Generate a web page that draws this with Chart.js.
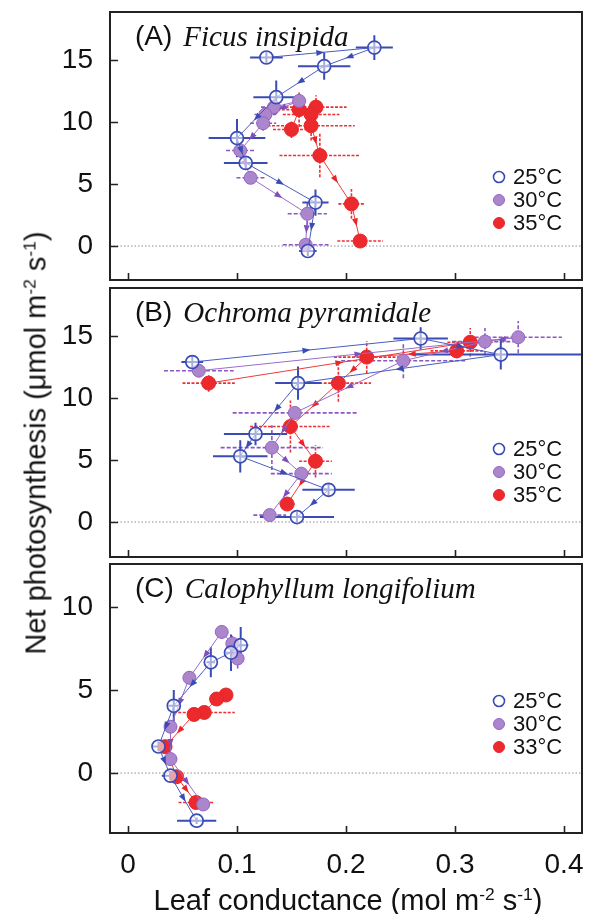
<!DOCTYPE html>
<html><head><meta charset="utf-8">
<script src="https://cdn.jsdelivr.net/npm/chart.js@4.4.0/dist/chart.umd.min.js"></script>
<style>
html,body{margin:0;padding:0;background:#fff;}
#wrap{position:relative;width:593px;height:914px;overflow:hidden;font-family:"Liberation Sans",Arial,sans-serif;color:#111;}
canvas{position:absolute;left:0;}
#ytitle{position:absolute;left:36px;top:443px;transform:translate(-50%,-50%) rotate(-90deg);white-space:nowrap;font-size:29px;line-height:1;}
#xtitle{position:absolute;left:348px;top:900px;transform:translate(-50%,-50%);white-space:nowrap;font-size:29px;line-height:1;}
sup{font-size:60%;vertical-align:0.55em;line-height:0;}
</style></head>
<body><div id="wrap">
<canvas id="cA" width="593" height="286" style="top:0"></canvas>
<canvas id="cB" width="593" height="276" style="top:284px"></canvas>
<canvas id="cC" width="593" height="354" style="top:560px"></canvas>
<div id="ytitle">Net photosynthesis (μmol m<sup>-2</sup> s<sup>-1</sup>)</div>
<div id="xtitle">Leaf conductance (mol m<sup>-2</sup> s<sup>-1</sup>)</div>
</div>
<script>
// ---------- DATA ----------
const tempLabelsAB = ['25°C', '30°C', '35°C'];
const tempLabelsC  = ['25°C', '30°C', '33°C'];
const xTickLabels = ['0', '0.1', '0.2', '0.3', '0.4'];

// Panel A  Ficus insipida
const A25_g    = [0.127, 0.226, 0.180, 0.136, 0.100, 0.108, 0.172, 0.165];
const A25_A    = [15.2, 16.0, 14.5, 12.0, 8.7, 6.7, 3.5, -0.4];
const A25_gErr = [0.015, 0.017, 0.024, 0.021, 0.026, 0.020, 0.012, 0.008];
const A25_AErr = [0.5, 1.0, 1.1, 1.35, 1.55, 0.5, 1.05, 0.4];

const A30_g    = [0.134, 0.157, 0.126, 0.124, 0.103, 0.1125, 0.1645, 0.163];
const A30_A    = [11.2, 11.7, 10.6, 9.9, 7.7, 5.5, 2.6, 0.1];
const A30_gErr = [0.012, 0.006, 0.010, 0.012, 0.013, 0.013, 0.018, 0.021];
const A30_AErr = [0.6, 0.5, 0.6, 0.6, 0.6, 0.5, 0.9, 0.3];

const A35_g    = [0.150, 0.157, 0.1725, 0.168, 0.168, 0.176, 0.205, 0.213];
const A35_A    = [9.4, 11.0, 11.2, 10.6, 9.7, 7.3, 3.4, 0.4];
const A35_gErr = [0.017, 0.020, 0.028, 0.026, 0.040, 0.037, 0.012, 0.021];
const A35_AErr = [0.7, 1.4, 0.95, 0.8, 1.2, 1.75, 1.2, 0.3];

// Panel B  Ochroma pyramidale
const B25_g    = [0.059, 0.2685, 0.342, 0.156, 0.117, 0.103, 0.184, 0.155];
const B25_A    = [12.9, 14.8, 13.5, 11.2, 7.1, 5.3, 2.6, 0.4];
const B25_gErr = [0.010, 0.025, 0.080, 0.021, 0.029, 0.025, 0.024, 0.034];
const B25_AErr = [0.5, 0.9, 1.2, 1.35, 0.9, 1.3, 0.5, 0.4];

const B30_g    = [0.065, 0.358, 0.3275, 0.2526, 0.153, 0.132, 0.159, 0.130];
const B30_A    = [12.2, 14.9, 14.55, 13.0, 8.8, 6.0, 3.9, 0.56];
const B30_gErr = [0.032, 0.040, 0.030, 0.057, 0.057, 0.047, 0.028, 0.015];
const B30_AErr = [0.4, 1.3, 1.1, 1.4, 0.5, 1.8, 0.5, 0.3];

const B35_g    = [0.074, 0.314, 0.3015, 0.219, 0.193, 0.149, 0.172, 0.146];
const B35_A    = [11.2, 14.5, 13.8, 13.3, 11.2, 7.7, 4.9, 1.45];
const B35_gErr = [0.024, 0.021, 0.024, 0.030, 0.030, 0.037, 0.015, 0.007];
const B35_AErr = [0.7, 1.15, 0.6, 1.3, 1.5, 2.1, 1.3, 0.3];

// Panel C  Calophyllum longifolium
const C25_g    = [0.1034, 0.0945, 0.076, 0.042, 0.028, 0.039, 0.063];
const C25_A    = [7.7, 7.25, 6.67, 4.05, 1.6, -0.16, -2.87];
const C25_gErr = [0.007, 0.005, 0.004, 0.005, 0.005, 0.008, 0.018];
const C25_AErr = [1.1, 1.1, 0.9, 0.95, 0.3, 0.3, 0.2];

const C30_g    = [0.1006, 0.0957, 0.086, 0.0563, 0.039, 0.039, 0.069];
const C30_A    = [6.9, 7.8, 8.5, 5.74, 2.79, 0.84, -1.89];
const C30_gErr = [0.005, 0.005, 0.005, 0.004, 0.006, 0.005, 0.006];
const C30_AErr = [0.6, 0.5, 0.4, 0.4, 0.4, 0.4, 0.3];

const C33_g    = [0.0899, 0.0813, 0.070, 0.0606, 0.034, 0.0446, 0.0624];
const C33_A    = [4.7, 4.46, 3.65, 3.53, 1.59, -0.22, -1.77];
const C33_gErr = [0.006, 0.006, 0.028, 0.006, 0.005, 0.006, 0.016];
const C33_AErr = [0.2, 0.2, 0.3, 0.2, 0.3, 0.3, 0.2];

// ---------- STYLES ----------
const FONT = '"Liberation Sans", Arial, sans-serif';
const STY = [
  { line:'#4a5cc2', fill:'rgba(255,255,255,0.55)', stroke:'#3a4cb4', sw:1.7, r:6.5, err:'#3a4cb4', dash:[], ew:2, arrow:'#3a4cb4', legFill:'#fff' },
  { line:'#9a6ccb', fill:'#ab86cc', stroke:'#9466c2', sw:1, r:6.5, err:'#8a58c0', dash:[4,2], ew:1.6, arrow:'#7d4fb8', legFill:'#ab86cc' },
  { line:'#f03a3a', fill:'#ec2a2e', stroke:'#e8262a', sw:1, r:7, err:'#ec3034', dash:[3,1.5], ew:1.6, arrow:'#e8262a', legFill:'#ec2a2e' }
];

function makeDs(label, g, A, gErr, AErr, st) {
  return {
    label,
    data: g.map((v, i) => ({ x: v, y: A[i] })),
    xErr: gErr, yErr: AErr,
    showLine: true, borderColor: st.line, borderWidth: 1,
    pointRadius: st.r, pointBackgroundColor: st.fill, pointBorderColor: st.stroke, pointBorderWidth: st.sw,
    errColor: st.err, errDash: st.dash, errWidth: st.ew, arrowColor: st.arrow, legFill: st.legFill
  };
}

const deco = {
  id: 'deco',
  beforeDatasetsDraw(chart) {
    const { ctx, chartArea: ca, scales: { x, y } } = chart;
    ctx.save();
    ctx.beginPath(); ctx.rect(ca.left, ca.top, ca.right - ca.left, ca.bottom - ca.top); ctx.clip();
    const y0 = y.getPixelForValue(0);
    ctx.strokeStyle = '#8c8c8c'; ctx.lineWidth = 1; ctx.setLineDash([1.5, 2]);
    ctx.beginPath(); ctx.moveTo(ca.left, y0); ctx.lineTo(ca.right, y0); ctx.stroke();
    for (let di = chart.data.datasets.length - 1; di >= 0; di--) {
      const ds = chart.data.datasets[di];
      ctx.strokeStyle = ds.errColor; ctx.lineWidth = ds.errWidth; ctx.setLineDash(ds.errDash);
      ds.data.forEach((p, i) => {
        const px = x.getPixelForValue(p.x), py = y.getPixelForValue(p.y);
        const x1 = x.getPixelForValue(p.x - ds.xErr[i]), x2 = x.getPixelForValue(p.x + ds.xErr[i]);
        const y1 = y.getPixelForValue(p.y - ds.yErr[i]), y2 = y.getPixelForValue(p.y + ds.yErr[i]);
        ctx.beginPath(); ctx.moveTo(x1, py); ctx.lineTo(x2, py); ctx.moveTo(px, y1); ctx.lineTo(px, y2); ctx.stroke();
      });
    }
    ctx.restore();
  },
  afterDatasetDraw(chart, args) {
    const { ctx, scales: { x, y } } = chart;
    const ds = chart.data.datasets[args.index];
    ctx.save();
    ctx.fillStyle = ds.arrowColor;
    for (let i = 0; i < ds.data.length - 1; i++) {
      const ax = x.getPixelForValue(ds.data[i].x), ay = y.getPixelForValue(ds.data[i].y);
      const bx = x.getPixelForValue(ds.data[i + 1].x), by = y.getPixelForValue(ds.data[i + 1].y);
      const dx = bx - ax, dy = by - ay, len = Math.hypot(dx, dy);
      if (len < 26) continue;
      const ux = dx / len, uy = dy / len, mx = (ax + bx) / 2, my = (ay + by) / 2;
      ctx.beginPath();
      ctx.moveTo(mx + ux * 4, my + uy * 4);
      ctx.lineTo(mx - ux * 4 - uy * 3, my - uy * 4 + ux * 3);
      ctx.lineTo(mx - ux * 4 + uy * 3, my - uy * 4 - ux * 3);
      ctx.closePath(); ctx.fill();
    }
    ctx.restore();
  },
  afterDraw(chart, args, opts) {
    const { ctx, chartArea: ca, scales: { x, y } } = chart;
    ctx.save();
    ctx.strokeStyle = '#222'; ctx.lineWidth = 2; ctx.setLineDash([]);
    ctx.strokeRect(ca.left, ca.top, ca.right - ca.left, ca.bottom - ca.top);
    ctx.lineWidth = 1.6;
    ctx.beginPath();
    x.ticks.forEach(t => { const px = Math.round(x.getPixelForValue(t.value)) + 0.5; ctx.moveTo(px, ca.bottom); ctx.lineTo(px, ca.bottom - 7); });
    y.ticks.forEach(t => { const py = Math.round(y.getPixelForValue(t.value)) + 0.5; ctx.moveTo(ca.left, py); ctx.lineTo(ca.left + 8, py); });
    ctx.stroke();
    // title
    ctx.fillStyle = '#111'; ctx.textBaseline = 'middle'; ctx.textAlign = 'left';
    ctx.font = '28px ' + FONT;
    const tx = ca.left + 25, ty = ca.top + 25;
    ctx.fillText(opts.title, tx, ty);
    const w = ctx.measureText(opts.title).width;
    ctx.font = 'italic 29px "Liberation Serif", "Times New Roman", serif';
    ctx.fillText(opts.species, tx + w + 11, ty + 1);
    // legend
    chart.data.datasets.forEach((ds, i) => {
      const cx = ca.left + 389, cy = ca.top + opts.legendTop + i * 23;
      ctx.beginPath(); ctx.arc(cx, cy, 5.5, 0, Math.PI * 2);
      ctx.fillStyle = ds.legFill; ctx.fill();
      ctx.lineWidth = i === 0 ? 1.6 : 1; ctx.strokeStyle = ds.pointBorderColor; ctx.stroke();
      ctx.fillStyle = '#111'; ctx.font = '22px ' + FONT;
      ctx.fillText(ds.label, cx + 14, cy + 1);
    });
    ctx.restore();
  }
};

const X_MIN = -0.0165, X_MAX = 0.4165;
const tickFont = { family: FONT, size: 28 };

function panel(id, p) {
  return new Chart(document.getElementById(id), {
    type: 'scatter',
    data: { datasets: p.datasets },
    options: {
      responsive: false, animation: false, devicePixelRatio: 1,
      layout: { autoPadding: false, padding: { top: p.padTop, right: 11, left: 0, bottom: 0 } },
      plugins: { legend: { display: false }, tooltip: { enabled: false },
        deco: { title: p.title, species: p.species, legendTop: p.legendTop } },
      scales: {
        x: { type: 'linear', min: X_MIN, max: X_MAX,
          afterFit: s => { s.height = p.xAxisH; s.paddingLeft = 0; s.paddingRight = 0; s.paddingTop = 0; s.paddingBottom = 0; },
          grid: { display: false, drawTicks: false }, border: { display: false },
          ticks: { display: p.showX, stepSize: 0.1, includeBounds: false, padding: 15, maxRotation: 0, autoSkip: false,
            font: tickFont, color: '#111', callback: (v, i) => xTickLabels[i] } },
        y: { type: 'linear', min: p.yMin, max: p.yMax,
          afterFit: s => { s.width = 110; s.paddingTop = 0; s.paddingBottom = 0; s.paddingLeft = 0; s.paddingRight = 0; },
          grid: { display: false, drawTicks: false }, border: { display: false },
          ticks: { stepSize: 5, includeBounds: false, padding: 17, font: tickFont, color: '#111' } }
      }
    },
    plugins: [deco]
  });
}

panel('cA', {
  title: '(A)', species: 'Ficus insipida', padTop: 12, xAxisH: 6, showX: false, yMin: -2.74, yMax: 18.87, legendTop: 165,
  datasets: [
    makeDs(tempLabelsAB[0], A25_g, A25_A, A25_gErr, A25_AErr, STY[0]),
    makeDs(tempLabelsAB[1], A30_g, A30_A, A30_gErr, A30_AErr, STY[1]),
    makeDs(tempLabelsAB[2], A35_g, A35_A, A35_gErr, A35_AErr, STY[2])
  ]
});
panel('cB', {
  title: '(B)', species: 'Ochroma pyramidale', padTop: 4, xAxisH: 3, showX: false, yMin: -2.82, yMax: 18.87, legendTop: 161,
  datasets: [
    makeDs(tempLabelsAB[0], B25_g, B25_A, B25_gErr, B25_AErr, STY[0]),
    makeDs(tempLabelsAB[1], B30_g, B30_A, B30_gErr, B30_AErr, STY[1]),
    makeDs(tempLabelsAB[2], B35_g, B35_A, B35_gErr, B35_AErr, STY[2])
  ]
});
panel('cC', {
  title: '(C)', species: 'Calophyllum longifolium', padTop: 4, xAxisH: 81, showX: true, yMin: -3.61, yMax: 12.59, legendTop: 137,
  datasets: [
    makeDs(tempLabelsC[0], C25_g, C25_A, C25_gErr, C25_AErr, STY[0]),
    makeDs(tempLabelsC[1], C30_g, C30_A, C30_gErr, C30_AErr, STY[1]),
    makeDs(tempLabelsC[2], C33_g, C33_A, C33_gErr, C33_AErr, STY[2])
  ]
});
</script>
</body></html>
